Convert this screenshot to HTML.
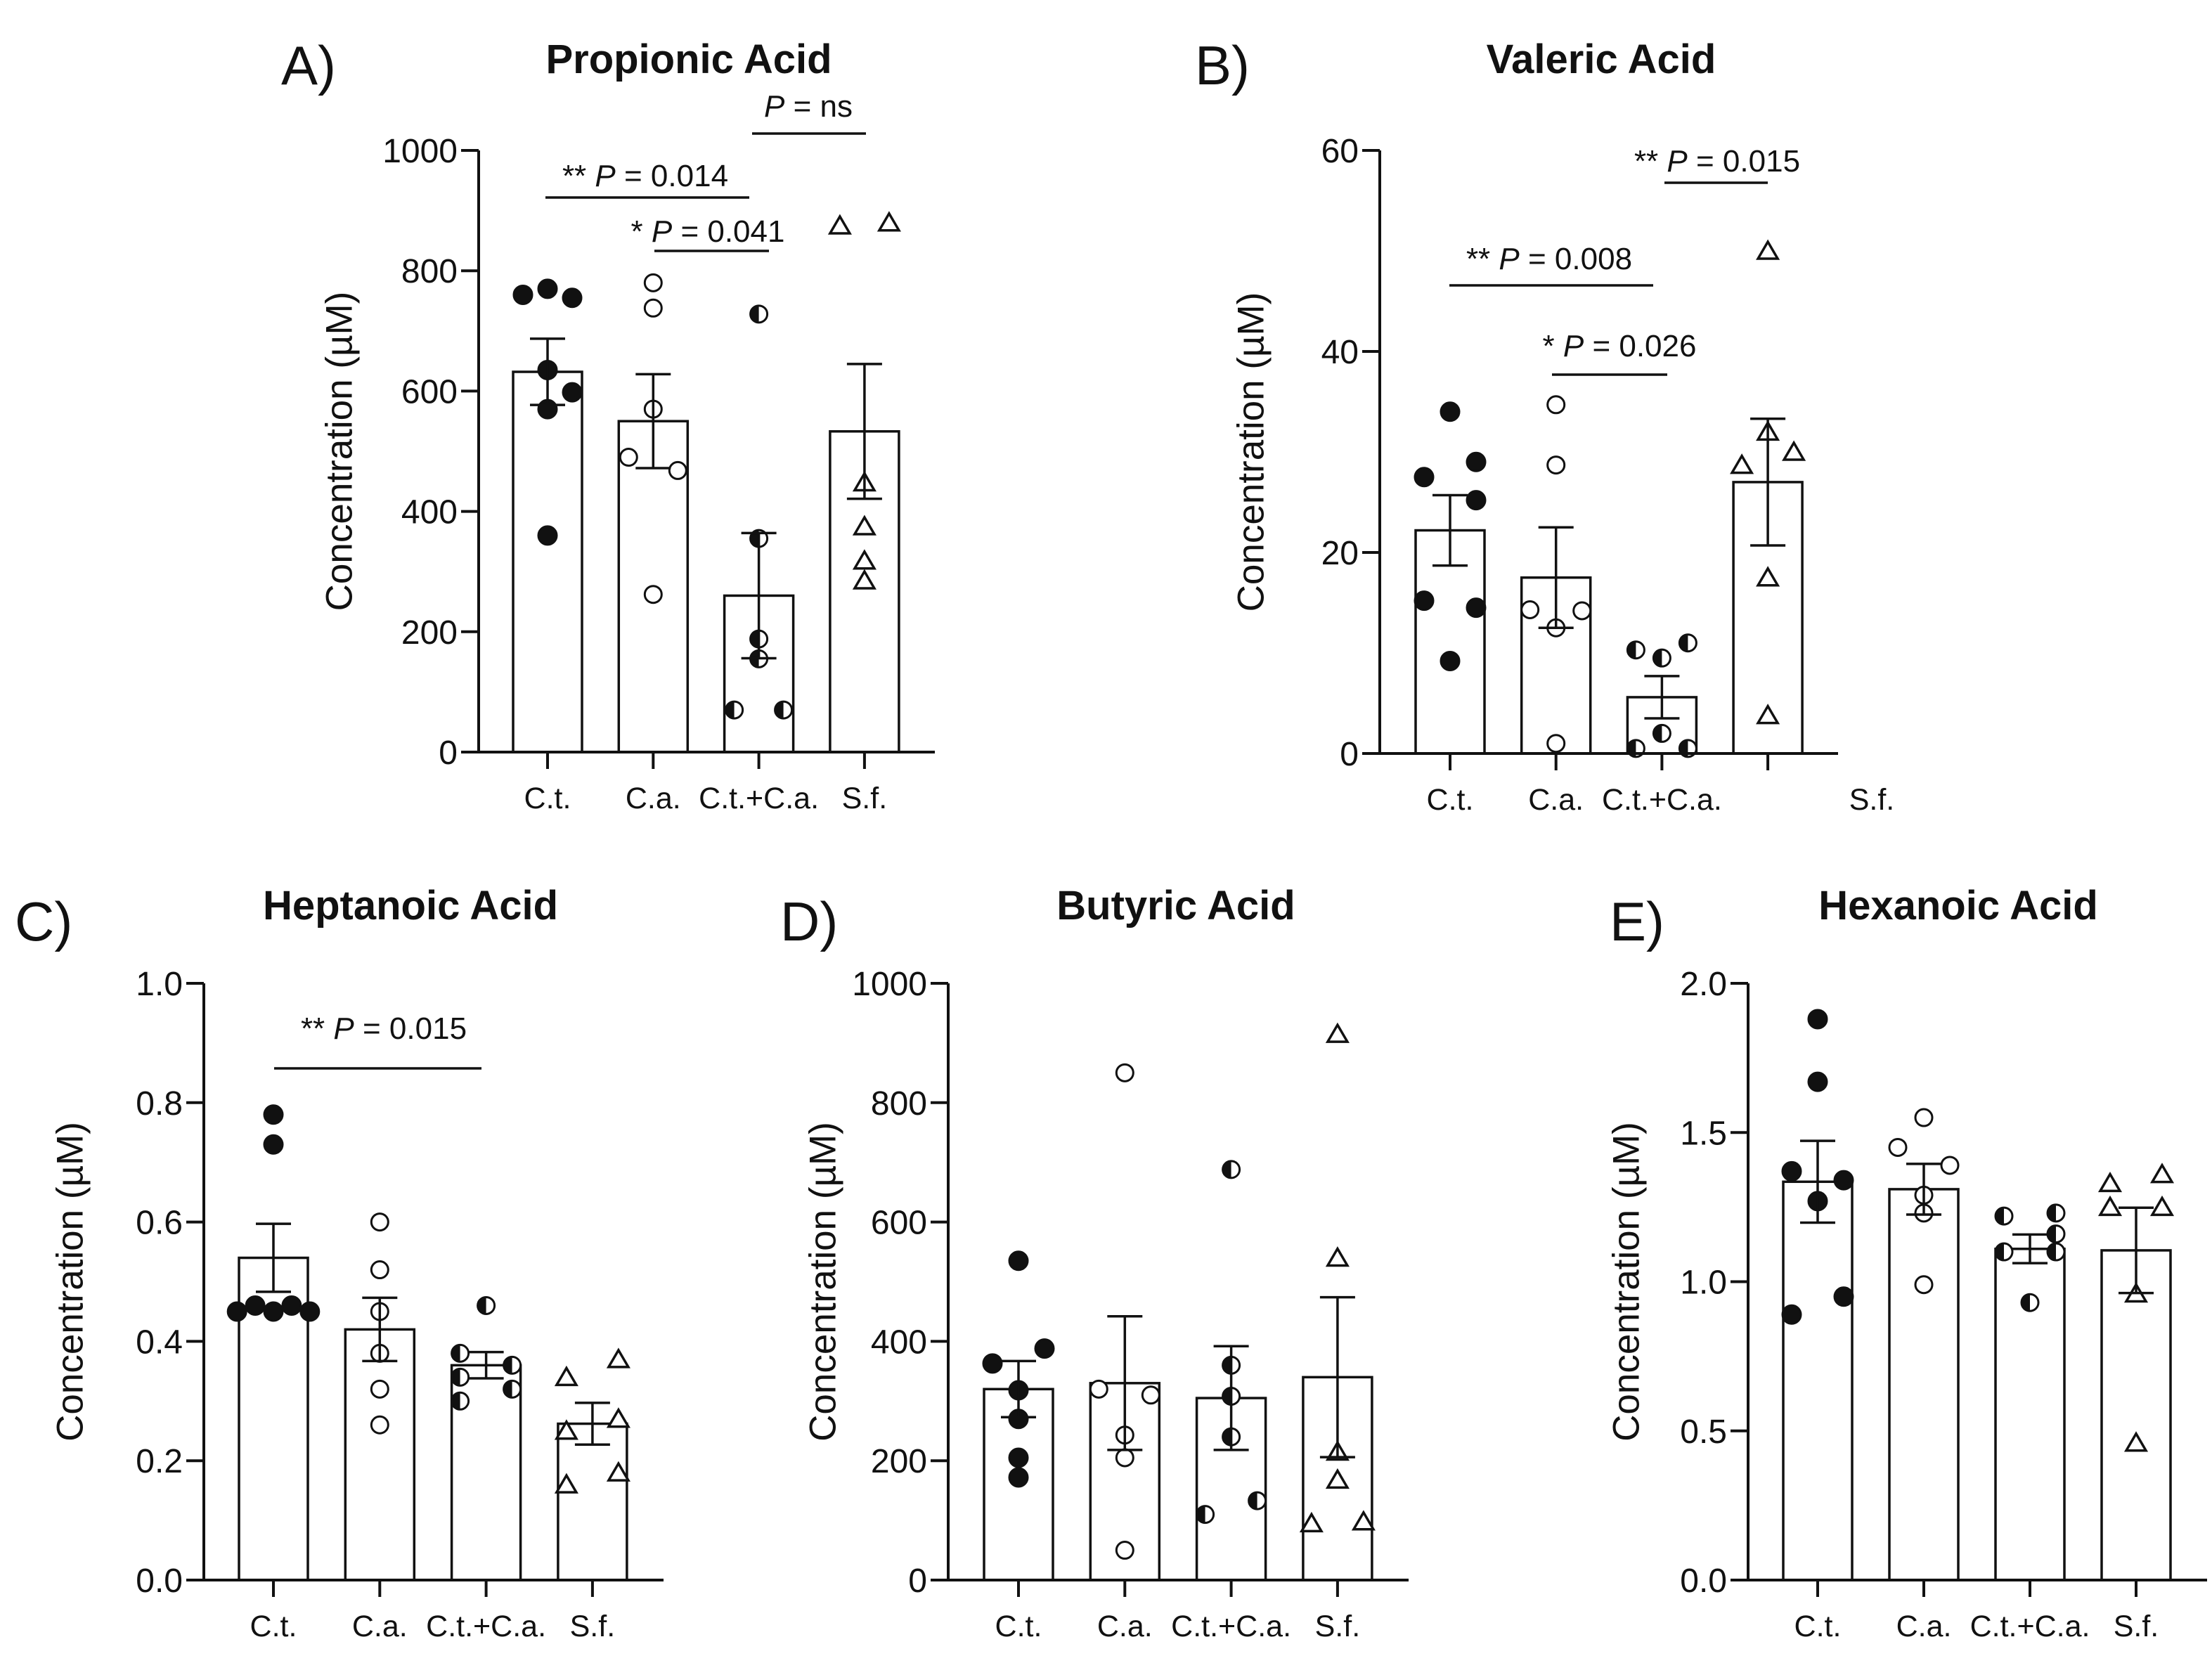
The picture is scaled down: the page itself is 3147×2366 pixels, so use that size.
<!DOCTYPE html>
<html><head><meta charset="utf-8"><style>
html,body{margin:0;padding:0;background:#fff}
svg{display:block}
text{font-family:"Liberation Sans",Arial,sans-serif;fill:#111}
</style></head><body>
<svg id="fig" xmlns="http://www.w3.org/2000/svg" width="3147" height="2366" viewBox="0 0 3147 2366"></svg>
<script>
const categories = ["C.t.","C.a.","C.t.+C.a.","S.f."];
const markerTypes = ["filled","open","half","triangle"];

// Panel A: Propionic Acid
const aMeans = [632,550,260,533];
const aSem = [55,78,104,112];
const aPoints = [[760,770,755,635,598,570,360],[780,738,570,490,468,262],[728,355,188,155,70,70],[875,880,448,375,318,285]];
const aTicks = [0,200,400,600,800,1000];
// Panel B: Valeric Acid
const bMeans = [22.2,17.5,5.6,27];
const bSem = [3.5,5,2.1,6.3];
const bPoints = [[34,29,27.5,25.2,15.2,14.5,9.2],[34.7,28.7,14.3,14.2,12.5,1],[10.3,11,9.5,2,0.5,0.5],[50,32,30,28.7,17.5,3.8]];
const bTicks = [0,20,40,60];
// Panel C: Heptanoic Acid
const cMeans = [0.54,0.42,0.36,0.262];
const cSem = [0.057,0.053,0.022,0.035];
const cPoints = [[0.78,0.73,0.45,0.46,0.45,0.46,0.45],[0.60,0.52,0.45,0.38,0.32,0.26],[0.46,0.38,0.36,0.34,0.32,0.30],[0.37,0.34,0.27,0.25,0.18,0.16]];
const cTicks = [0,0.2,0.4,0.6,0.8,1.0];
// Panel D: Butyric Acid
const dMeans = [320,330,305,340];
const dSem = [47,112,87,134];
const dPoints = [[535,388,363,318,270,205,172],[850,320,310,243,205,50],[688,360,308,240,133,110],[915,540,215,168,95,98]];
const dTicks = [0,200,400,600,800,1000];
// Panel E: Hexanoic Acid
const eMeans = [1.335,1.31,1.11,1.105];
const eSem = [0.137,0.085,0.048,0.143];
const ePoints = [[1.88,1.67,1.37,1.34,1.27,0.95,0.89],[1.55,1.45,1.39,1.29,1.23,0.99],[1.22,1.23,1.16,1.1,1.1,0.93],[1.36,1.33,1.25,1.25,0.96,0.46]];
const eTicks = [0,0.5,1.0,1.5,2.0];

// horizontal jitter (presentation only, multiples of jitter unit)
const jit = {
 a:[[-1,0,1,0,1,0,0],[0,0,0,-1,1,0],[0,0,0,0,-1,1],[-1,1,0,0,0,0]],
 b:[[0,1,-1,1,-1,1,0],[0,0,-1,1,0,0],[-1,1,0,0,-1,1],[0,0,1,-1,0,0]],
 c:[[0,0,-1.4,-0.7,0,0.7,1.4],[0,0,0,0,0,0],[0,-1,1,-1,1,-1],[1,-1,1,-1,1,-1]],
 d:[[0,1,-1,0,0,0,0],[0,-1,1,0,0,0],[0,0,0,0,1,-1],[0,0,0,0,-1,1]],
 e:[[0,0,-1,1,0,1,-1],[0,-1,1,0,0,0],[-1,1,1,-1,1,0],[1,-1,-1,1,0,0]]
};

const NS="http://www.w3.org/2000/svg";
const svg=document.getElementById('fig');
function mk(tag,attrs,parent){const e=document.createElementNS(NS,tag);for(const k in attrs)e.setAttribute(k,attrs[k]);(parent||svg).appendChild(e);return e;}

function panel(cfg){
 const g=mk('g',{});
 
 
 const yS=v=>cfg.y0-(v/cfg.ymax)*(cfg.y0-cfg.ytop);
 const xS=i=>cfg.ax+cfg.first+i*cfg.step;
 let t=mk('text',{x:cfg.letterX,y:cfg.letterY,'font-size':78},g);t.textContent=cfg.letter;
 
 t=mk('text',{x:cfg.titleX,y:cfg.titleY,'font-size':58,'font-weight':'bold','text-anchor':'middle'},g);t.textContent=cfg.title;
 
 const yc=(cfg.y0+cfg.ytop)/2;
 t=mk('text',{x:cfg.ytX,y:yc,'font-size':53,'text-anchor':'middle',transform:`rotate(-90 ${cfg.ytX} ${yc})`,'dominant-baseline':'central'},g);t.textContent='Concentration (µM)';
 
 cfg.means.forEach((m,i)=>{
  const cx=xS(i),w=98;
  const r=mk('rect',{x:cx-w/2,y:yS(m),width:w,height:cfg.y0-yS(m),fill:'#fff',stroke:'#111','stroke-width':3.5},g);
  
 });
 cfg.points.forEach((arr,i)=>{
  arr.forEach((v,j)=>{
   const cx=xS(i)+cfg.jit[i][j]*cfg.ju, cy=yS(v), type=markerTypes[i];
   let el;
   if(type==='triangle'){
    el=mk('polygon',{points:`${cx},${cy-13} ${cx-14},${cy+11} ${cx+14},${cy+11}`,fill:'#fff',stroke:'#111','stroke-width':3.5},g);
   }else if(type==='half'){
    el=mk('g',{},g);
    mk('circle',{cx:cx,cy:cy,r:12,fill:'#fff',stroke:'#111','stroke-width':3},el);
    mk('path',{d:`M${cx},${cy-12} A12,12 0 0 0 ${cx},${cy+12} Z`,fill:'#111'},el);
   }else{
    el=mk('circle',{cx:cx,cy:cy,r:type==='filled'?13:12,fill:type==='filled'?'#111':'#fff',stroke:'#111','stroke-width':3},g);
   }
   
  });
 });
 cfg.means.forEach((m,i)=>{
  const cx=xS(i),hi=yS(m+cfg.sem[i]),lo=yS(m-cfg.sem[i]);
  const e=mk('path',{d:`M${cx},${hi}V${lo}M${cx-25},${hi}H${cx+25}M${cx-25},${lo}H${cx+25}`,stroke:'#111','stroke-width':3.5,fill:'none'},g);
  
 });
 const ax=mk('path',{d:`M${cfg.ax},${cfg.ytop}V${cfg.y0}H${cfg.xend}`,stroke:'#111','stroke-width':4,fill:'none'},g);
 
 cfg.ticks.forEach(v=>{
  const y=yS(v);
  mk('line',{x1:cfg.ax-25,x2:cfg.ax,y1:y,y2:y,stroke:'#111','stroke-width':4},g);
  const tl=mk('text',{x:cfg.ax-30,y:y+17,'font-size':48,'text-anchor':'end'},g);
  tl.textContent=cfg.fmt(v);
  
 });
 categories.forEach((c,i)=>{
  const x=xS(i);
  mk('line',{x1:x,x2:x,y1:cfg.y0,y2:cfg.y0+24,stroke:'#111','stroke-width':4},g);
  const lx=(cfg.catX&&cfg.catX[i])||x;
  const tl=mk('text',{x:lx,y:cfg.y0+80,'font-size':43,'text-anchor':'middle'},g);
  tl.textContent=c;
  
 });
 (cfg.sig||[]).forEach(s=>{
  const l=mk('line',{x1:s.x1,x2:s.x2,y1:s.ly,y2:s.ly,stroke:'#111','stroke-width':3.5},g);
  
  const tx=mk('text',{x:s.tx,y:s.ty,'font-size':44,'text-anchor':'middle'},g);
  tx.innerHTML=(s.stars?s.stars+' ':'')+'<tspan font-style="italic">P</tspan> = '+s.p;
  
 });
}
const f0=v=>String(v), f1=v=>v.toFixed(1);
panel({id:'propionic',letter:'A)',letterX:400,letterY:120,title:'Propionic Acid',titleX:980,titleY:104,ytX:483,
 ax:681,first:98,step:150.3,xend:1330,y0:1070,ytop:214,ymax:1000,means:aMeans,sem:aSem,points:aPoints,ticks:aTicks,fmt:f0,jit:jit.a,ju:35,
 sig:[{x1:776,x2:1066,ly:281,tx:918,ty:265,stars:'**',p:'0.014'},{x1:931,x2:1094,ly:357,tx:1007,ty:344,stars:'*',p:'0.041'},{x1:1070,x2:1232,ly:190,tx:1150,ty:166,stars:'',p:'ns'}]});
panel({id:'valeric',letter:'B)',letterX:1700,letterY:120,title:'Valeric Acid',titleX:2278,titleY:104,ytX:1780,
 ax:1963,first:100,step:150.7,xend:2615,y0:1072,ytop:214,ymax:60,means:bMeans,sem:bSem,points:bPoints,ticks:bTicks,fmt:f0,jit:jit.b,ju:37,catX:[null,null,null,2663],
 sig:[{x1:2062,x2:2352,ly:406,tx:2204,ty:383,stars:'**',p:'0.008'},{x1:2208,x2:2372,ly:533,tx:2304,ty:507,stars:'*',p:'0.026'},{x1:2368,x2:2515,ly:260,tx:2443,ty:244,stars:'**',p:'0.015'}]});
panel({id:'heptanoic',letter:'C)',letterX:21,letterY:1338,title:'Heptanoic Acid',titleX:584,titleY:1308,ytX:100,
 ax:290,first:99,step:151.3,xend:944,y0:2248,ytop:1399,ymax:1.0,means:cMeans,sem:cSem,points:cPoints,ticks:cTicks,fmt:f1,jit:jit.c,ju:37,
 sig:[{x1:390,x2:685,ly:1520,tx:546,ty:1478,stars:'**',p:'0.015'}]});
panel({id:'butyric',letter:'D)',letterX:1110,letterY:1338,title:'Butyric Acid',titleX:1673,titleY:1308,ytX:1171,
 ax:1349,first:100,step:151.3,xend:2004,y0:2248,ytop:1399,ymax:1000,means:dMeans,sem:dSem,points:dPoints,ticks:dTicks,fmt:f0,jit:jit.d,ju:37});
panel({id:'hexanoic',letter:'E)',letterX:2290,letterY:1338,title:'Hexanoic Acid',titleX:2786,titleY:1308,ytX:2314,
 ax:2487,first:99,step:151,xend:3140,y0:2248,ytop:1399,ymax:2.0,means:eMeans,sem:eSem,points:ePoints,ticks:eTicks,fmt:f1,jit:jit.e,ju:37});
</script>
</body></html>
